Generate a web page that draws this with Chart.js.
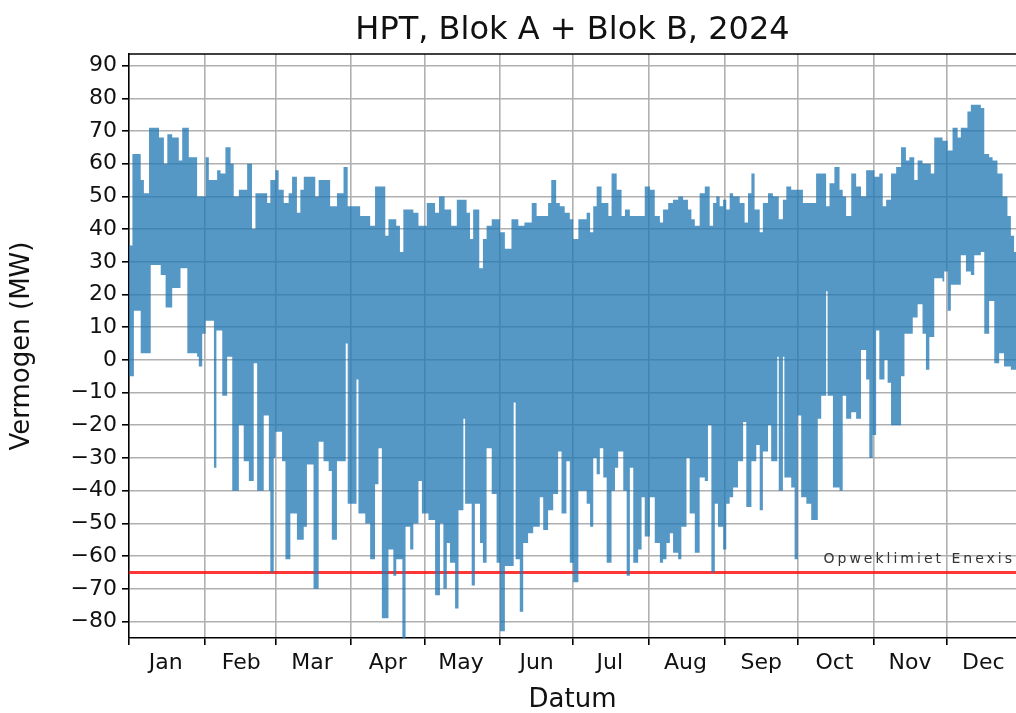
<!DOCTYPE html>
<html>
<head>
<meta charset="utf-8">
<script src="https://cdn.jsdelivr.net/npm/chart.js@4.4.1/dist/chart.umd.min.js"></script>
<style>
  html, body { margin: 0; padding: 0; background: #fff; }
</style>
</head>
<body>
<canvas id="grafiek" width="1016" height="713"></canvas>
<script>
// dag van het jaar waarop een stuk begint, met max en min vermogen (MW) in dat stuk
var dagen = [0, 1.4, 2, 4.8, 6.1, 8.2, 8.9, 12.3, 13, 14.3, 15, 15.7, 17.7, 20.4, 21.1, 21.8, 23.9, 24.5, 27.9, 28.6,
  30, 31.4, 32.7, 34.8, 35.8, 36.1, 37.5, 38.2, 39.5, 40.2, 41.6, 42.3, 42.9, 45, 47, 48.4, 49.1, 50.4, 51.1, 51.8,
  52.5, 55.2, 56.6, 57.3, 57.9, 59.3, 60, 61.3, 62.7, 63.4, 64.1, 65.4, 66.1, 66.8, 68.8, 70.2, 71.6, 72.9, 75.6, 76.3,
  77.7, 79.7, 81.8, 82.4, 83.1, 85.2, 87.9, 88.8, 89.6, 93.2, 94, 94.7, 96.8, 98.8, 100.8, 102.2, 103.6, 105, 106.3, 108.3,
  109.5, 111, 112, 112.4, 113.3, 115.2, 116.5, 118.6, 120, 122, 122.7, 125.4, 127, 127.4, 128.8, 129.3, 130.2, 131.5, 132, 133.6,
  134.3, 135, 137, 137.7, 138.3, 139.7, 140.4, 141, 141.7, 143.5, 143.8, 145, 146.5, 148.6, 150.6, 152, 154, 156.7, 157.6, 158.4,
  159.5, 160.1, 161.5, 162, 163.5, 165, 165.6, 167, 168.3, 169.7, 171.7, 173, 173.8, 175, 175.8, 176.5, 177.2, 178.5, 179.2, 180.6,
  182, 184.1, 187.5, 188.9, 190.2, 191.6, 192.9, 193.6, 194.3, 195.7, 196.4, 197.7, 199.1, 199.8, 200.4, 201.8, 202.5, 203.2, 203.9, 205.2,
  206.6, 208.6, 210, 211.3, 213.4, 215.4, 217.5, 218.8, 220.2, 220.9, 221.6, 222.9, 225, 226.3, 227, 228.4, 229, 229.7, 230.4, 231.8,
  233.8, 235.9, 237.2, 237.9, 238.6, 239.3, 240, 240.6, 241.3, 242, 243.4, 244.7, 246.1, 247.5, 249.5, 250.2, 251.6, 252.2, 252.9, 253.6,
  255, 256.3, 257, 258.4, 259.7, 261.8, 263.1, 263.8, 265.6, 266.2, 267.9, 268.5, 269.3, 271.3, 272.7, 274, 275.4, 276.1, 277.5, 279.5,
  281.5, 282.2, 283.6, 285.6, 286.2, 287, 288.4, 289, 291.1, 292.4, 293.8, 295.9, 297.9, 299.9, 302, 303.3, 304.7, 305.4, 306.1, 307.4,
  308.8, 309.5, 310.2, 310.8, 312.2, 314.3, 316.3, 317.7, 318.3, 319.7, 321.1, 321.7, 323.1, 325.1, 326.5, 327.9, 328.5, 329.9, 333.3, 334,
  335.4, 336.7, 337.4, 339.5, 340.8, 342.9, 343.5, 344.9, 346.3, 349, 350.4, 352.4, 353.8, 354.5, 355.8, 356.5, 357.9, 358.5, 359.9, 361.3,
  362.6, 364];
var maxMW = [35, 63, 63, 55, 51, 71, 71, 68, 68, 60, 60, 69, 68, 61, 61, 71, 71, 62, 50, 50,
  50, 62, 55, 55, 55, 58, 57, 57, 65, 65, 60, 60, 50, 52, 52, 60, 60, 40, 40, 51,
  51, 51, 48, 48, 55, 55, 58, 52, 52, 48, 48, 51, 51, 56, 45, 52, 56, 56, 56, 50,
  55, 55, 55, 47, 47, 51, 59, 59, 47, 47, 47, 44, 44, 41, 53, 53, 53, 38, 43, 43,
  41, 33, 33, 46, 46, 46, 45, 41, 41, 48, 48, 45, 50, 50, 50, 46, 46, 46, 41, 41,
  49, 49, 49, 49, 45, 37, 37, 46, 46, 28, 28, 37, 41, 43, 43, 39, 34, 43, 43, 43,
  41, 41, 41, 42, 42, 48, 48, 44, 44, 44, 48, 55, 55, 48, 48, 47, 47, 45, 45, 43,
  37, 43, 45, 39, 47, 53, 53, 48, 48, 48, 44, 57, 57, 52, 52, 44, 44, 46, 46, 44,
  44, 44, 44, 53, 52, 44, 42, 46, 46, 48, 48, 49, 50, 50, 49, 49, 46, 46, 43, 41,
  51, 53, 53, 41, 41, 48, 48, 50, 50, 47, 49, 46, 51, 50, 50, 48, 48, 42, 42, 51,
  57, 46, 46, 39, 48, 51, 51, 50, 50, 43, 49, 49, 53, 52, 52, 52, 52, 48, 48, 48,
  57, 57, 57, 47, 47, 54, 54, 59, 52, 50, 44, 57, 53, 50, 58, 58, 58, 56, 56, 57,
  47, 47, 49, 49, 57, 59, 65, 65, 61, 62, 62, 55, 61, 60, 60, 60, 57, 68, 67, 67,
  64, 64, 71, 68, 71, 71, 76, 78, 78, 77, 63, 62, 61, 61, 57, 57, 50, 50, 44, 38,
  33, 33];
var minMW = [-5, -5, 15, 2, 2, 2, 29, 29, 26, 26, 16, 16, 22, 22, 28, 28, 2, 2, 1, -2,
  8, 12, 12, -33, 9, 9, 9, -11, -11, 1, 1, -40, -40, -20, -31, -31, -37, -37, -1, -1,
  -40, -17, -17, -40, -65, -30, -22, -22, -31, -31, -61, -61, -47, -47, -55, -55, -51, -32, -70, -70,
  -25, -31, -34, -34, -55, -31, -31, 5, -44, -6, -47, -47, -50, -61, -38, -27, -79, -79, -58, -66,
  -61, -61, -86, -86, -51, -58, -50, -37, -47, -47, -49, -72, -72, -50, -70, -70, -56, -62, -62, -76,
  -76, -46, -18, -44, -44, -44, -69, -69, -44, -44, -56, -62, -27, -41, -62, -83, -63, -63, -13, -61,
  -61, -77, -56, -56, -53, -53, -51, -51, -42, -52, -46, -46, -41, -41, -28, -28, -47, -47, -31, -62,
  -68, -40, -44, -51, -30, -35, -27, -27, -36, -62, -62, -40, -33, -33, -28, -28, -40, -40, -66, -33,
  -62, -58, -42, -54, -42, -56, -62, -61, -56, -56, -53, -59, -61, -51, -51, -30, -30, -47, -47, -59,
  -36, -37, -20, -20, -65, -65, -44, -44, -51, -51, -58, -44, -42, -39, -31, -31, -19, -19, -45, -45,
  -31, -31, -26, -46, -28, -20, -31, -31, 1, -40, 1, -36, -36, -39, -61, -17, -42, -42, -44, -49,
  -49, -18, -11, 21, -11, -11, -39, -39, -40, -11, -18, -16, -18, 3, -6, -30, -23, -23, 9, -6,
  -6, 0, 0, -7, -20, -20, -5, 8, 8, 8, 13, 13, 17, 8, -3, 7, 7, 25, 24, 27,
  15, 23, 23, 23, 32, 27, 27, 26, 32, 33, 8, 18, 18, -1, -1, 2, 2, -2, -2, -3,
  -3, -3];

var maanden = ['Jan', 'Feb', 'Mar', 'Apr', 'May', 'Jun', 'Jul', 'Aug', 'Sep', 'Oct', 'Nov', 'Dec'];
var maandStart = [0, 31, 60, 91, 121, 152, 182, 213, 244, 274, 305, 335];
var yTicks = [-80, -70, -60, -50, -40, -30, -20, -10, 0, 10, 20, 30, 40, 50, 60, 70, 80, 90];
var opweklimiet = -65;

var blauw = 'rgba(31, 119, 180, 0.76)';

var hoogData = dagen.map(function (d, i) { return { x: d, y: maxMW[i] }; });
var laagData = dagen.map(function (d, i) { return { x: d, y: minMW[i] }; });

// tick op elke maandgrens (lijn) en op de 16e (naam)
var xTicks = [];
maandStart.forEach(function (m) { xTicks.push(m); xTicks.push(m + 15); });

function isMaandStart(v) { return maandStart.indexOf(v) >= 0; }

var extra = {
  id: 'extra',
  afterDatasetsDraw: function (chart) {
    var ctx = chart.ctx;
    var a = chart.chartArea;
    ctx.save();
    // bovenste rand
    ctx.strokeStyle = '#000';
    ctx.lineWidth = 1.5;
    ctx.beginPath();
    ctx.moveTo(a.left, a.top);
    ctx.lineTo(a.right, a.top);
    ctx.stroke();
    // label bij de limiet
    var y = chart.scales.y.getPixelForValue(opweklimiet);
    ctx.fillStyle = '#333';
    ctx.font = '14px "DejaVu Sans"';
    ctx.textAlign = 'right';
    ctx.textBaseline = 'alphabetic';
    if ('letterSpacing' in ctx) ctx.letterSpacing = '3px';
    ctx.fillText('Opweklimiet Enexis', a.right - 1, y - 9);
    ctx.restore();
  }
};

var myChart = new Chart(document.getElementById('grafiek').getContext('2d'), {
  type: 'line',
  data: {
    datasets: [{
      label: 'max',
      data: hoogData,
      stepped: 'before',
      borderWidth: 0,
      borderColor: 'rgba(0,0,0,0)',
      backgroundColor: blauw,
      pointRadius: 0,
      fill: '+1'
    }, {
      label: 'min',
      data: laagData,
      stepped: 'before',
      borderWidth: 0,
      borderColor: 'rgba(0,0,0,0)',
      backgroundColor: blauw,
      pointRadius: 0,
      fill: false
    }, {
      label: 'Opweklimiet Enexis',
      data: [{ x: 0, y: opweklimiet }, { x: 364, y: opweklimiet }],
      borderColor: 'rgba(255, 20, 20, 0.85)',
      borderWidth: 3,
      pointRadius: 0,
      fill: false
    }]
  },
  options: {
    responsive: false,
    animation: false,
    devicePixelRatio: 1,
    layout: { padding: { left: 0, right: 0, top: 0, bottom: 0 }, autoPadding: false },
    plugins: {
      legend: { display: false },
      tooltip: { enabled: false },
      title: {
        display: true,
        text: 'HPT, Blok A + Blok B, 2024',
        fullSize: false,
        color: '#111',
        font: { family: '"DejaVu Sans"', size: 32, weight: 'normal', lineHeight: 1.2 },
        padding: { top: 11, bottom: 4.6 }
      }
    },
    scales: {
      x: {
        type: 'linear',
        min: 0,
        max: 363.4,
        afterFit: function (s) { s.height = 75; },
        afterBuildTicks: function (s) { s.ticks = xTicks.map(function (v) { return { value: v }; }); },
        ticks: {
          autoSkip: false,
          maxRotation: 0,
          padding: 5,
          color: '#111',
          font: { family: '"DejaVu Sans"', size: 22 },
          callback: function (v) {
            var i = maandStart.indexOf(v - 15);
            return i >= 0 ? maanden[i] : '';
          }
        },
        grid: {
          color: function (c) { return c.tick && isMaandStart(c.tick.value) ? '#b0b0b0' : 'rgba(0,0,0,0)'; },
          tickColor: function (c) { return c.tick && isMaandStart(c.tick.value) ? '#000' : 'rgba(0,0,0,0)'; },
          lineWidth: 1.6,
          tickLength: 7
        },
        border: { display: true, color: '#000', width: 1.5 },
        title: {
          display: true,
          text: 'Datum',
          color: '#111',
          font: { family: '"DejaVu Sans"', size: 26, lineHeight: 1.0 },
          padding: { top: 0, bottom: 0 }
        }
      },
      y: {
        type: 'linear',
        min: -85.05,
        max: 93.55,
        afterFit: function (s) { s.width = 129; },
        afterBuildTicks: function (s) { s.ticks = yTicks.map(function (v) { return { value: v }; }); },
        ticks: {
          padding: 5,
          color: '#111',
          font: { family: '"DejaVu Sans"', size: 22 },
          callback: function (v) { return v < 0 ? '\u2212' + Math.abs(v) : String(v); }
        },
        grid: {
          color: '#b0b0b0',
          lineWidth: 1.6,
          tickColor: '#000',
          tickLength: 7
        },
        border: { display: true, color: '#000', width: 1.5 },
        title: {
          display: true,
          text: 'Vermogen (MW)',
          color: '#111',
          font: { family: '"DejaVu Sans"', size: 26, lineHeight: 1.0 },
          padding: { top: 9, bottom: 0 }
        }
      }
    }
  },
  plugins: [extra]
});
</script>
</body>
</html>
